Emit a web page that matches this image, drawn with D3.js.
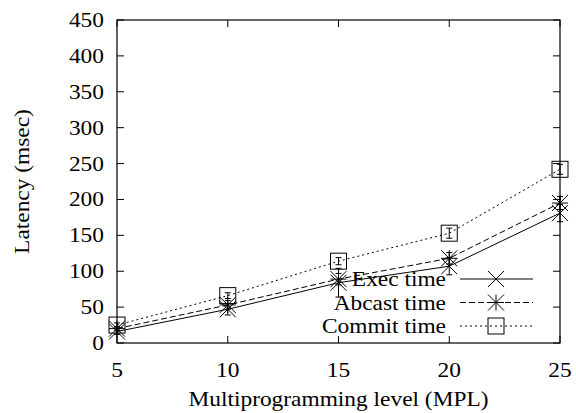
<!DOCTYPE html>
<html>
<head>
<meta charset="utf-8">
<script src="https://cdn.jsdelivr.net/npm/d3@7"></script>
<style>
  html, body { margin: 0; padding: 0; background: #fff; }
</style>
</head>
<body>
<div id="chart"></div>
<script>
// MPL levels on the x axis
const mpl = [5, 10, 15, 20, 25];

// latency (msec), with error bar half-heights
const execTime   = [16, 47, 84, 107, 181];
const execErr    = [4, 8, 20, 12, 12];
const abcastTime = [20, 53, 89, 118, 195];
const abcastErr  = [3, 6, 8, 8, 9];
const commitTime = [25, 66, 114, 153, 242];
const commitErr  = [3, 4, 5, 7, 7];

const yTicks = [0, 50, 100, 150, 200, 250, 300, 350, 400, 450];
const xTicks = [5, 10, 15, 20, 25];

const series = [
    { name: "Exec time",   vals: execTime,   err: execErr,   dash: null,  marker: "x" },
    { name: "Abcast time", vals: abcastTime, err: abcastErr, dash: "6,3", marker: "star" },
    { name: "Commit time", vals: commitTime, err: commitErr, dash: "2,3", marker: "box" }
];

const W = 576, H = 413;
const M = { left: 117, right: 16, top: 20, bottom: 70 };
const SX = 1.17; // gnuplot glyphs come out a bit wider than tall
const FONT = "'Times New Roman', Times, Tinos, 'Liberation Serif', serif";

const svg = d3.select('#chart').append('svg').attr('width', W).attr('height', H);

const x = d3.scaleLinear().domain([5, 25]).range([M.left, W - M.right]);
const y = d3.scaleLinear().domain([0, 450]).range([H - M.bottom, M.top]);

function label(px, py, txt, anchor) {
    return svg.append('text')
        .attr('transform', `translate(${px},${py}) scale(${SX},1)`)
        .attr('font-family', FONT)
        .attr('text-anchor', anchor).attr('font-size', '20px').text(txt);
}

// frame
svg.append('rect')
    .attr('x', x(5)).attr('y', y(450)).attr('width', x(25) - x(5)).attr('height', y(0) - y(450))
    .attr('fill', 'none').attr('stroke', '#000').attr('stroke-width', 1.2);

// inward ticks, mirrored
const tl = 7;
yTicks.forEach(t => {
    svg.append('line').attr('x1', x(5)).attr('x2', x(5) + tl).attr('y1', y(t)).attr('y2', y(t)).attr('stroke', '#000');
    svg.append('line').attr('x1', x(25)).attr('x2', x(25) - tl).attr('y1', y(t)).attr('y2', y(t)).attr('stroke', '#000');
    label(x(5) - 13, y(t) + 7, t, 'end');
});
xTicks.forEach(t => {
    svg.append('line').attr('x1', x(t)).attr('x2', x(t)).attr('y1', y(0)).attr('y2', y(0) - tl).attr('stroke', '#000');
    svg.append('line').attr('x1', x(t)).attr('x2', x(t)).attr('y1', y(450)).attr('y2', y(450) + tl).attr('stroke', '#000');
    label(x(t), y(0) + 34, t, 'middle');
});

// axis titles
label((x(5) + x(25)) / 2, 406, 'Multiprogramming level (MPL)', 'middle');
svg.append('text')
    .attr('transform', `translate(29,${(y(0) + y(450)) / 2}) rotate(-90) scale(${SX},1)`)
    .attr('font-family', FONT)
    .attr('text-anchor', 'middle').attr('font-size', '20px').text('Latency (msec)');

function drawMarker(g, type, cx, cy) {
    const s = 8;
    if (type === 'box') {
        g.append('rect').attr('x', cx - s).attr('y', cy - s).attr('width', 2 * s).attr('height', 2 * s)
            .attr('fill', 'none').attr('stroke', '#000');
    } else {
        g.append('line').attr('x1', cx - s).attr('y1', cy - s).attr('x2', cx + s).attr('y2', cy + s).attr('stroke', '#000');
        g.append('line').attr('x1', cx - s).attr('y1', cy + s).attr('x2', cx + s).attr('y2', cy - s).attr('stroke', '#000');
        if (type === 'star') {
            g.append('line').attr('x1', cx - s).attr('y1', cy).attr('x2', cx + s).attr('y2', cy).attr('stroke', '#000');
            g.append('line').attr('x1', cx).attr('y1', cy - s).attr('x2', cx).attr('y2', cy + s).attr('stroke', '#000');
        }
    }
}

const line = d3.line().x((d, i) => x(mpl[i])).y(d => y(d));
const plot = svg.append('g');

series.forEach(s => {
    plot.append('path').datum(s.vals).attr('d', line)
        .attr('fill', 'none').attr('stroke', '#000').attr('stroke-width', 1)
        .attr('stroke-dasharray', s.dash);
    s.vals.forEach((v, i) => {
        const cx = x(mpl[i]);
        const lo = y(v - s.err[i]), hi = y(v + s.err[i]);
        plot.append('line').attr('x1', cx).attr('x2', cx).attr('y1', lo).attr('y2', hi).attr('stroke', '#000');
        [lo, hi].forEach(yy => plot.append('line').attr('x1', cx - 3).attr('x2', cx + 3)
            .attr('y1', yy).attr('y2', yy).attr('stroke', '#000'));
        drawMarker(plot, s.marker, cx, y(v));
    });
});

// legend
const lg = svg.append('g');
series.forEach((s, i) => {
    const ly = 279 + i * 23.5;
    lg.append('line').attr('x1', 460).attr('x2', 533).attr('y1', ly).attr('y2', ly)
        .attr('stroke', '#000').attr('stroke-dasharray', s.dash);
    drawMarker(lg, s.marker, 496, ly);
    label(446, ly + 7, s.name, 'end');
});
</script>
</body>
</html>
